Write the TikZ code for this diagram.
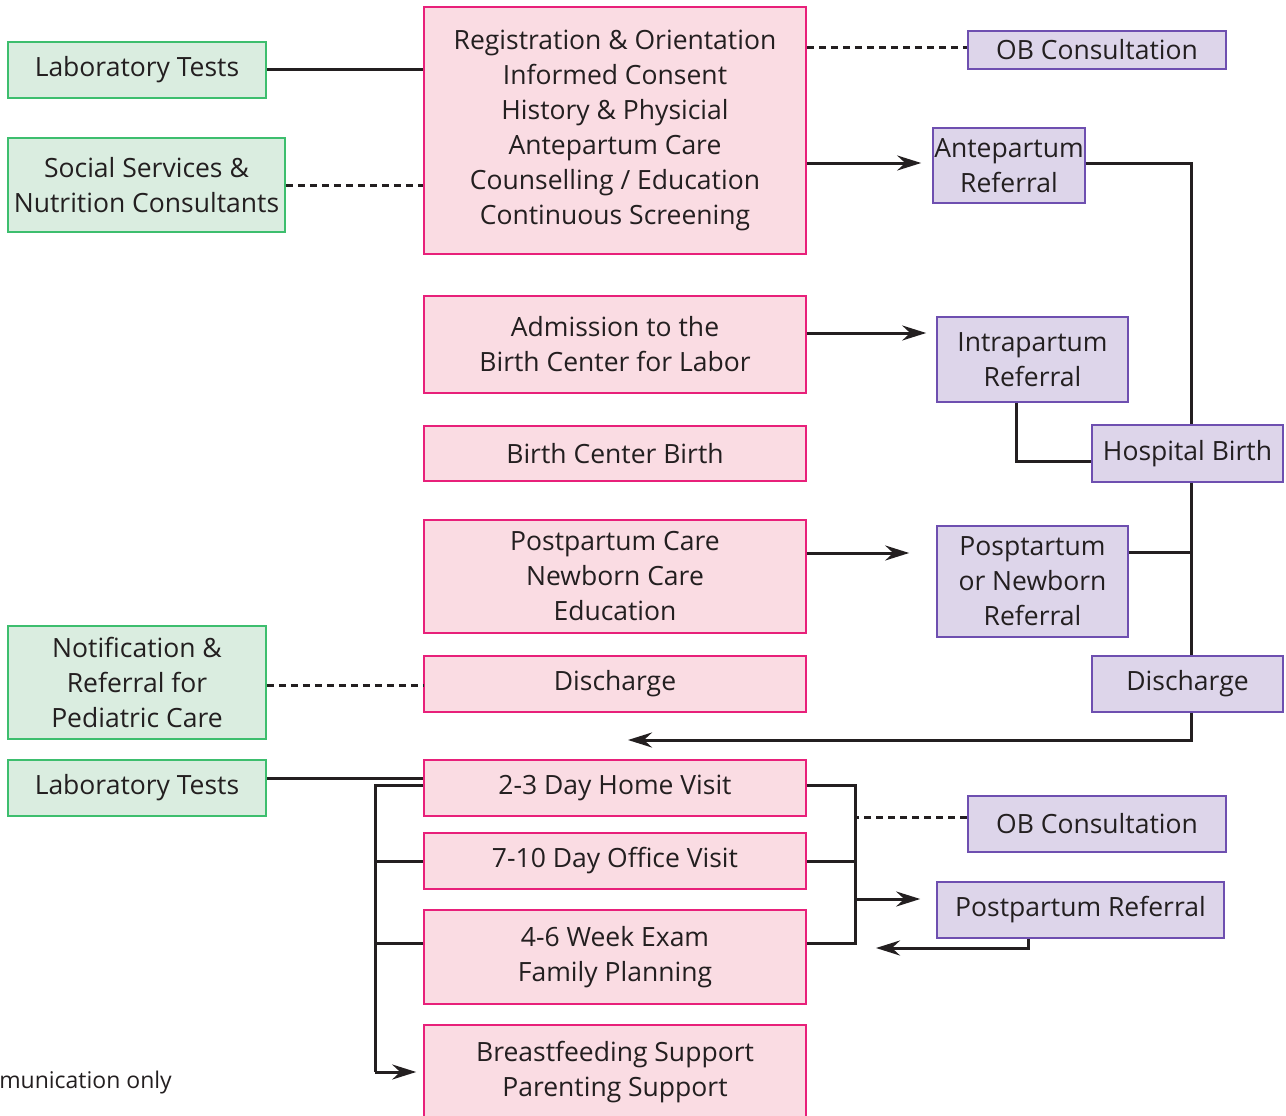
\documentclass[tikz,border=0pt]{standalone}
\usepackage{fontspec}
\setmainfont{Open Sans}
\usetikzlibrary{arrows.meta,calc}
\definecolor{gfill}{HTML}{DAEDE0}
\definecolor{gline}{HTML}{3DBE6E}
\definecolor{pfill}{HTML}{FADCE3}
\definecolor{pline}{HTML}{E8207A}
\definecolor{vfill}{HTML}{DDD5EA}
\definecolor{vline}{HTML}{6E4FB0}
\definecolor{ink}{HTML}{231F20}
\begin{document}
\begin{tikzpicture}[x=1pt,y=-1pt,
  every node/.style={font=\fontsize{26.5}{35}\selectfont, text=ink, align=center, inner sep=0pt},
  gbox/.style={draw=gline, fill=gfill, line width=1.6pt},
  pbox/.style={draw=pline, fill=pfill, line width=1.6pt},
  vbox/.style={draw=vline, fill=vfill, line width=1.6pt},
  conn/.style={draw=ink, line width=3pt},
  dconn/.style={conn, dash pattern=on 7pt off 5pt},
  arr/.style={conn, -{Stealth[length=24pt,width=15pt,inset=8pt]}}]
\useasboundingbox (0,0) rectangle (1286,1116);
% green
\node[gbox, minimum width=258pt, minimum height=56pt] (lab1) at (137,70) {Laboratory Tests};
\node[gbox, minimum width=277pt, minimum height=94pt] (social) at (146.5,185) {Social Services \&\\Nutrition Consultants};
\node[gbox, minimum width=258pt, minimum height=113pt] (notif) at (137,682.5) {Notification \&\\Referral for\\Pediatric Care};
\node[gbox, minimum width=258pt, minimum height=56pt] (lab2) at (137,788) {Laboratory Tests};
% pink
\node[pbox, minimum width=382pt, minimum height=247pt] (reg) at (615,130.5) {Registration \& Orientation\\Informed Consent\\History \& Physicial\\Antepartum Care\\Counselling / Education\\Continuous Screening};
\node[pbox, minimum width=382pt, minimum height=97pt] (adm) at (615,344.5) {Admission to the\\Birth Center for Labor};
\node[pbox, minimum width=382pt, minimum height=55pt] (bcb) at (615,453.5) {Birth Center Birth};
\node[pbox, minimum width=382pt, minimum height=113pt] (ppc) at (615,576.5) {Postpartum Care\\Newborn Care\\Education};
\node[pbox, minimum width=382pt, minimum height=56pt] (dis) at (615,684) {Discharge};
\node[pbox, minimum width=382pt, minimum height=56pt] (v23) at (615,788) {2-3 Day Home Visit};
\node[pbox, minimum width=382pt, minimum height=56pt] (v710) at (615,861) {7-10 Day Office Visit};
\node[pbox, minimum width=382pt, minimum height=94pt] (v46) at (615,957) {4-6 Week Exam\\Family Planning};
\node[pbox, minimum width=382pt, minimum height=94pt] (bf) at (615,1072) {Breastfeeding Support\\Parenting Support};
% purple
\node[vbox, minimum width=258pt, minimum height=38pt] (ob1) at (1097,50) {OB Consultation};
\node[vbox, minimum width=152pt, minimum height=75pt] (ante) at (1009,165.5) {Antepartum\\Referral};
\node[vbox, minimum width=191pt, minimum height=85pt] (intra) at (1032.5,359.5) {Intrapartum\\Referral};
\node[vbox, minimum width=191pt, minimum height=57pt] (hosp) at (1187.5,453.5) {Hospital Birth};
\node[vbox, minimum width=191pt, minimum height=111pt] (ppn) at (1032.5,581.5) {Posptartum\\or Newborn\\Referral};
\node[vbox, minimum width=191pt, minimum height=56pt] (dis2) at (1187.5,684) {Discharge};
\node[vbox, minimum width=258pt, minimum height=56pt] (ob2) at (1097,824) {OB Consultation};
\node[vbox, minimum width=287pt, minimum height=56pt] (ppr) at (1080.5,910) {Postpartum Referral};
% note
\node[anchor=base east, font=\fontsize{23}{27}\selectfont] (note) at (172,1088) {munication only};
% coordinates
\coordinate (ret) at (628,740);
\coordinate (bl) at (375,1072);
\coordinate (br) at (855,943);
\coordinate (pb) at (876,948);
\coordinate (spine) at ([xshift=3.5pt]hosp.south);
% connectors top
\draw[conn] (lab1.east) -- (lab1.east -| reg.west);
\draw[dconn] (social.east) -- (social.east -| reg.west);
\draw[dconn] ([yshift=2pt]ob1.west -| reg.east) -- ([yshift=2pt]ob1.west);
\draw[arr, shorten >=11pt] ([yshift=2.5pt]ante.west -| reg.east) -- ([yshift=2.5pt]ante.west);
\draw[conn] ([yshift=2.5pt]ante.east) -| ([xshift=3.5pt]hosp.north);
\draw[arr, shorten >=10pt] ([yshift=11.5pt]adm.east) -- ([yshift=11.5pt]adm.east -| intra.west);
\draw[conn] ([xshift=-16.5pt]intra.south) |- ([yshift=-7.5pt]hosp.west);
\draw[conn] (spine) -- ([xshift=3.5pt]dis2.north);
\draw[conn] ([yshift=29.5pt]ppn.east) -- ([yshift=29.5pt]ppn.east -| spine);
\draw[arr, shorten >=27pt] ([yshift=23.5pt]ppc.east) -- ([yshift=23.5pt]ppc.east -| ppn.west);
\draw[arr] ([xshift=3.5pt]dis2.south) |- (ret);
\draw[dconn] ([yshift=-2.5pt]notif.east) -- ([yshift=-2.5pt]notif.east -| dis.west);
% bottom
\draw[conn] ([yshift=10pt]lab2.east) -- ([yshift=10pt]lab2.east -| v23.west);
\draw[conn] ([yshift=3pt]v23.west) -| (bl);
\draw[arr, shorten >=7pt] (bl) -- (bl -| bf.west);
\draw[conn] (v710.west) -- (v710.west -| bl);
\draw[conn] ([yshift=14pt]v46.west) -- ([yshift=14pt]v46.west -| bl);
\draw[conn] ([yshift=3pt]v23.east) -| (br) -- ([yshift=14pt]v46.east);
\draw[conn] (v710.east) -- (v710.east -| br);
\draw[dconn] ([yshift=7pt]ob2.west) -- ([yshift=7pt]ob2.west -| br);
\draw[arr, shorten >=16pt] ([yshift=11pt]ppr.west -| br) -- ([yshift=11pt]ppr.west);
\draw[arr] ([xshift=-52.5pt]ppr.south) |- (pb);
\end{tikzpicture}
\end{document}
